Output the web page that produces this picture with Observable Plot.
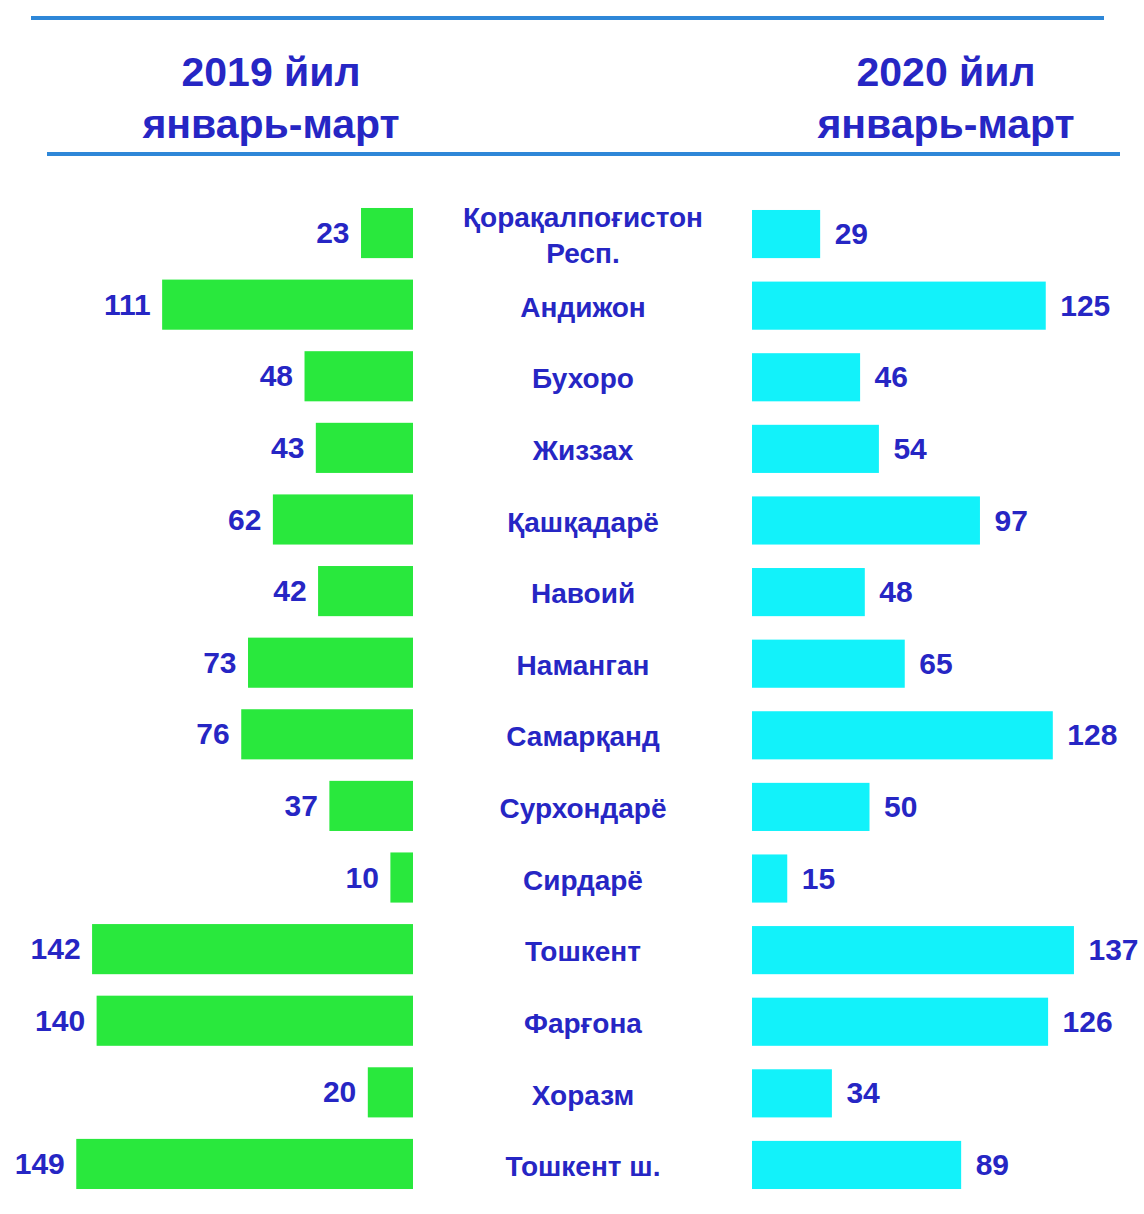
<!DOCTYPE html>
<html><head><meta charset="utf-8">
<script src="https://cdn.jsdelivr.net/npm/d3@7"></script>
<script src="https://cdn.jsdelivr.net/npm/@observablehq/plot@0.6"></script>
<style>
body{margin:0;background:#fff;}
#wrap{position:relative;width:1144px;height:1214px;font-family:"Liberation Sans",Arial,sans-serif;overflow:hidden;}
.hline{position:absolute;height:4px;background:#2e87d8;}
.title{position:absolute;width:400px;text-align:center;font-size:41px;font-weight:bold;color:#2626c4;line-height:52px;}
#row{position:absolute;top:180px;left:0;display:flex;}
#row svg{flex-shrink:0;max-width:none;}
</style></head><body>
<div id="wrap">
  <div class="hline" style="left:31px;top:16px;width:1073px"></div>
  <div class="title" id="t1" style="left:71px;top:46px"></div>
  <div class="title" id="t2" style="left:746px;top:46px"></div>
  <div class="hline" style="left:47px;top:152px;width:1073px"></div>
  <div id="row"></div>
</div>
<script>
const yearTitles = ["2019 йил", "2020 йил"];
const periodLabel = "январь-март";
const regions = ["Қорақалпоғистон\nРесп.", "Андижон", "Бухоро", "Жиззах", "Қашқадарё", "Навоий", "Наманган", "Самарқанд", "Сурхондарё", "Сирдарё", "Тошкент", "Фарғона", "Хоразм", "Тошкент ш."];
const values2019 = [23, 111, 48, 43, 62, 42, 73, 76, 37, 10, 142, 140, 20, 149];
const values2020 = [29, 125, 46, 54, 97, 48, 65, 128, 50, 15, 137, 126, 34, 89];

document.getElementById("t1").innerHTML = yearTitles[0] + "<br>" + periodLabel;
document.getElementById("t2").innerHTML = yearTitles[1] + "<br>" + periodLabel;

const rows = regions.map((r, i) => ({region: r, v19: values2019[i], v20: values2020[i]}));
const FONT = "'Liberation Sans', Arial, sans-serif";
const TEXT = "#2626c4";
const H = 1034, MT = 6.5, MB = 3.5;
const yOpts = {type: "band", domain: regions, padding: 0.3, round: false, axis: null};

const left = Plot.plot({
  width: 413, height: H, marginLeft: 0, marginRight: 0, marginTop: MT, marginBottom: MB,
  x: {domain: [0, 413 / 2.26], reverse: true, axis: null},
  y: yOpts,
  marks: [
    Plot.barX(rows, {y: "region", x: "v19", fill: "#29e83d"}),
    Plot.text(rows, {y: "region", x: "v19", text: d => String(d.v19), textAnchor: "end", dx: -12,
      fill: TEXT, fontSize: 30, fontWeight: "bold", fontFamily: FONT})
  ]
});

const center = Plot.plot({
  width: 339, height: H, marginLeft: 0, marginRight: 0, marginTop: MT, marginBottom: MB,
  y: yOpts,
  marks: [
    Plot.text(rows, {y: "region", text: "region", frameAnchor: "middle", lineHeight: 1.3,
      fill: TEXT, fontSize: 28, fontWeight: "bold", fontFamily: FONT})
  ]
});

const right = Plot.plot({
  width: 392, height: H, marginLeft: 0, marginRight: 0, marginTop: MT + 1, marginBottom: MB - 1,
  x: {domain: [0, 392 / 2.35], axis: null},
  y: yOpts,
  marks: [
    Plot.barX(rows, {y: "region", x: "v20", fill: "#12f2fa", insetTop: 1, insetBottom: 1}),
    Plot.text(rows, {y: "region", x: "v20", text: d => String(d.v20), textAnchor: "start", dx: 14,
      fill: TEXT, fontSize: 30, fontWeight: "bold", fontFamily: FONT})
  ]
});

const row = document.getElementById("row");
row.append(left, center, right);
</script>
</body></html>
